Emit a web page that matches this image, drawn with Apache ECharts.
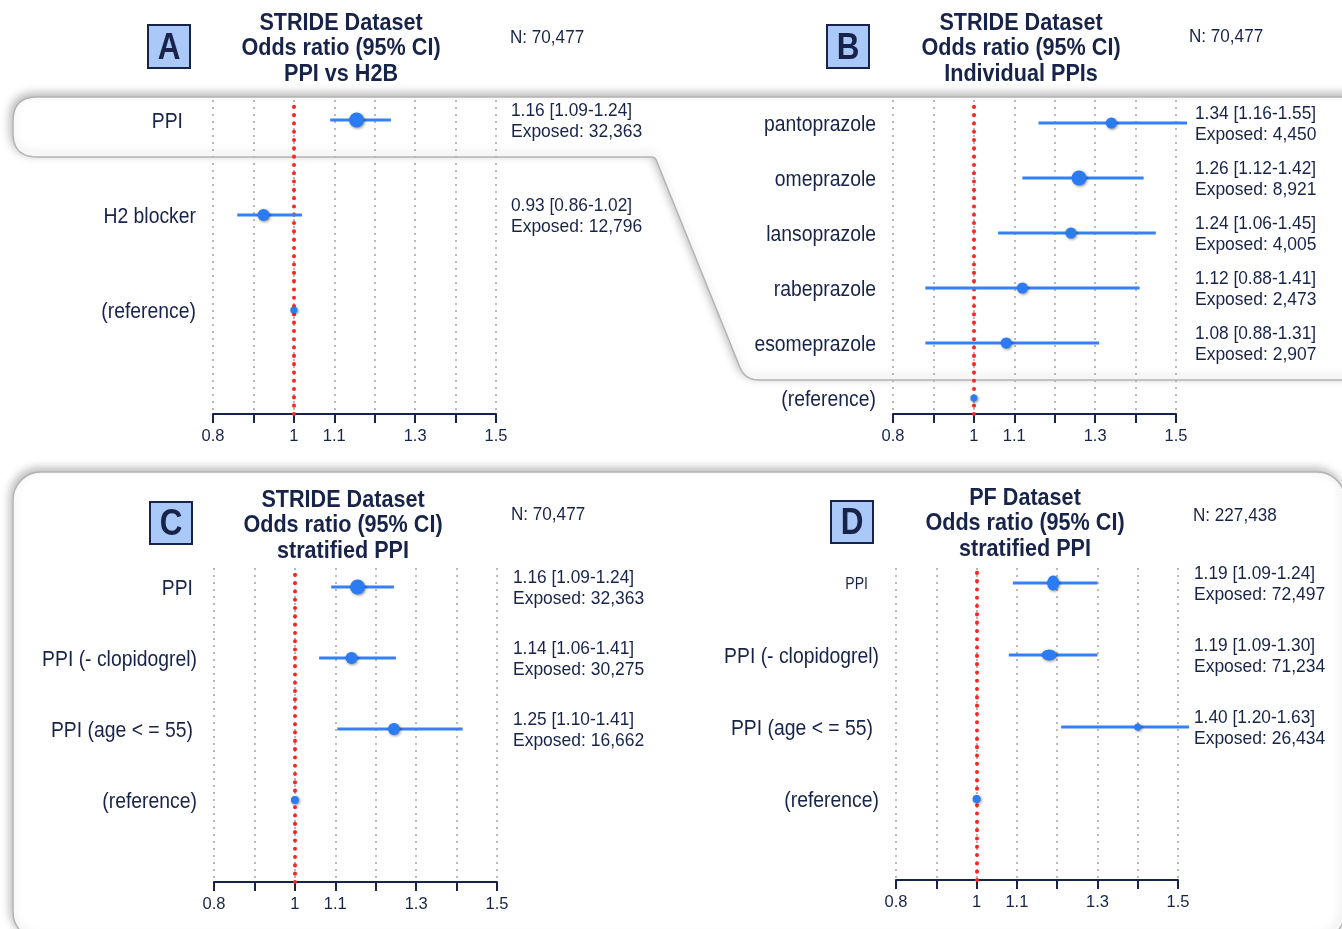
<!DOCTYPE html>
<html>
<head>
<meta charset="utf-8">
<script src="https://cdn.jsdelivr.net/npm/echarts@6/dist/echarts.min.js"></script>
<style>
html,body{margin:0;padding:0;background:#fff;}
#chart{width:1342px;height:929px;}
</style>
</head>
<body>
<div id="chart"></div>
<script>
// ---------------- DATA ----------------
const xTickLabelsShown = ['0.8', '1', '1.1', '1.3', '1.5'];

// Panel A: STRIDE, PPI vs H2B
const aCategories = ['PPI', 'H2 blocker', '(reference)'];
const aOR   = [1.155, 0.925, 1.0];
const aLow  = [1.09, 0.86, 1.0];
const aHigh = [1.24, 1.02, 1.0];
const aEstimate = ['1.16 [1.09-1.24]', '0.93 [0.86-1.02]', ''];
const aExposed  = ['Exposed: 32,363', 'Exposed: 12,796', ''];
const aN = 'N: 70,477';

// Panel B: STRIDE, individual PPIs
const bCategories = ['pantoprazole', 'omeprazole', 'lansoprazole', 'rabeprazole', 'esomeprazole', '(reference)'];
const bOR   = [1.34, 1.26, 1.24, 1.12, 1.08, 1.0];
const bLow  = [1.16, 1.12, 1.06, 0.88, 0.88, 1.0];
const bHigh = [1.55, 1.42, 1.45, 1.41, 1.31, 1.0];
const bEstimate = ['1.34 [1.16-1.55]', '1.26 [1.12-1.42]', '1.24 [1.06-1.45]', '1.12 [0.88-1.41]', '1.08 [0.88-1.31]', ''];
const bExposed  = ['Exposed: 4,450', 'Exposed: 8,921', 'Exposed: 4,005', 'Exposed: 2,473', 'Exposed: 2,907', ''];
const bN = 'N: 70,477';

// Panel C: STRIDE, stratified PPI
const cCategories = ['PPI', 'PPI (- clopidogrel)', 'PPI (age < = 55)', '(reference)'];
const cOR   = [1.155, 1.14, 1.245, 1.0];
const cLow  = [1.09, 1.06, 1.105, 1.0];
const cHigh = [1.245, 1.25, 1.415, 1.0];
const cEstimate = ['1.16 [1.09-1.24]', '1.14 [1.06-1.41]', '1.25 [1.10-1.41]', ''];
const cExposed  = ['Exposed: 32,363', 'Exposed: 30,275', 'Exposed: 16,662', ''];
const cN = 'N: 70,477';

// Panel D: PF, stratified PPI
const dCategories = ['PPI', 'PPI (- clopidogrel)', 'PPI (age < = 55)', '(reference)'];
const dOR   = [1.19, 1.18, 1.40, 1.0];
const dLow  = [1.09, 1.08, 1.21, 1.0];
const dHigh = [1.30, 1.30, 1.63, 1.0];
const dEstimate = ['1.19 [1.09-1.24]', '1.19 [1.09-1.30]', '1.40 [1.20-1.63]', ''];
const dExposed  = ['Exposed: 72,497', 'Exposed: 71,234', 'Exposed: 26,434', ''];
const dN = 'N: 227,438';

// ---------------- STYLE / LAYOUT ----------------
const NAVY = '#172349';
const BLUE = '#2b7bf3';
const LINEBLUE = '#3580f2';
const FONT = "'Liberation Sans',Arial,sans-serif";
const SQUEEZE = 0.88;   // horizontal condensing of text

const panels = [
  { key: 'A', cats: aCategories, or: aOR, lo: aLow, hi: aHigh, est: aEstimate, exp: aExposed, n: aN,
    title: ['STRIDE Dataset', 'Odds ratio (95% CI)', 'PPI vs H2B'],
    grid: { left: 213, top: 100, width: 283, height: 314 }, ymin: -0.095, ymax: 3.21,
    markerSize: [15, 12, 7], labelDx: [-13, 0, 0], labelSize: [22, 22, 22], annDx: 15,
    box: [148, 25, 42, 43], titleX: 341, titleY: 23, nPos: [510, 38] },
  { key: 'B', cats: bCategories, or: bOR, lo: bLow, hi: bHigh, est: bEstimate, exp: bExposed, n: bN,
    title: ['STRIDE Dataset', 'Odds ratio (95% CI)', 'Individual PPIs'],
    grid: { left: 893, top: 100, width: 283, height: 314 }, ymin: 0.709, ymax: 6.418,
    markerSize: [11, 15, 11, 11, 11, 7], labelDx: [0, 0, 0, 0, 0, 0], labelSize: [22, 22, 22, 22, 22, 22], annDx: 19,
    box: [827, 25, 42, 43], titleX: 1021, titleY: 23, nPos: [1189, 37] },
  { key: 'C', cats: cCategories, or: cOR, lo: cLow, hi: cHigh, est: cEstimate, exp: cExposed, n: cN,
    title: ['STRIDE Dataset', 'Odds ratio (95% CI)', 'stratified PPI'],
    grid: { left: 214, top: 568, width: 283, height: 314 }, ymin: -0.155, ymax: 4.268,
    markerSize: [15, 12, 12, 8], labelDx: [-4, 0, -4, 0], labelSize: [22, 22, 22, 22], annDx: 16,
    box: [150, 502, 42, 42], titleX: 343, titleY: 500, nPos: [511, 515] },
  { key: 'D', cats: dCategories, or: dOR, lo: dLow, hi: dHigh, est: dEstimate, exp: dExposed, n: dN,
    title: ['PF Dataset', 'Odds ratio (95% CI)', 'stratified PPI'],
    grid: { left: 896, top: 568, width: 282, height: 312 }, ymin: -0.125, ymax: 4.208,
    markerSize: [[12, 15], [15, 11], 7, 8], labelDx: [-11, 0, -6, 0], labelSize: [16, 22, 22, 22], annDx: 16,
    box: [831, 501, 42, 42], titleX: 1025, titleY: 498, nPos: [1193, 516] }
];

// condensed text element helper
function txt(text, x, y, font, align, sx) {
  return { type: 'text', x: 0, y: 0, scaleX: sx || SQUEEZE, originX: x, originY: y,
           style: { text, x, y, font, fill: NAVY, align: align || 'left', verticalAlign: 'middle' } };
}

// rounded-corner polygon helper (corner list: [x, y, radius])
function roundedPoly(corners) {
  const pts = [];
  const n = corners.length;
  for (let i = 0; i < n; i++) {
    const [x, y, r] = corners[i];
    if (!r) { pts.push([x, y]); continue; }
    const prev = corners[(i - 1 + n) % n], next = corners[(i + 1) % n];
    const v1 = [prev[0] - x, prev[1] - y], v2 = [next[0] - x, next[1] - y];
    const l1 = Math.hypot(v1[0], v1[1]), l2 = Math.hypot(v2[0], v2[1]);
    const u1 = [v1[0] / l1, v1[1] / l1], u2 = [v2[0] / l2, v2[1] / l2];
    const p1 = [x + u1[0] * r, y + u1[1] * r], p2 = [x + u2[0] * r, y + u2[1] * r];
    const steps = 10;
    for (let s = 0; s <= steps; s++) {
      const t = s / steps;
      const bx = (1 - t) * (1 - t) * p1[0] + 2 * (1 - t) * t * x + t * t * p2[0];
      const by = (1 - t) * (1 - t) * p1[1] + 2 * (1 - t) * t * y + t * t * p2[1];
      pts.push([bx, by]);
    }
  }
  return pts;
}

// ---------------- BUILD OPTION ----------------
const grids = [], xAxes = [], yAxes = [], series = [], graphics = [];

const shapeStyle = { fill: '#ffffff', stroke: '#b4b4b4', lineWidth: 1.5,
  shadowBlur: 10, shadowOffsetX: -2, shadowOffsetY: -3, shadowColor: 'rgba(0,0,0,0.28)' };

graphics.push({
  type: 'polygon', z: -20,
  shape: { points: roundedPoly([[1360, 97, 0], [13, 97, 24], [13, 157, 24], [655, 157, 4], [745, 380, 14], [1360, 380, 0]]) },
  style: shapeStyle
});
graphics.push({
  type: 'rect', z: -20,
  shape: { x: 13, y: 472, width: 1332, height: 468, r: 28 },
  style: shapeStyle
});

panels.forEach((p, pi) => {
  const n = p.cats.length;
  const rowPos = p.cats.map((_, i) => n - i);

  grids.push(Object.assign({ containLabel: false }, p.grid));
  xAxes.push({
    type: 'value', gridIndex: pi, min: 0.8, max: 1.5, interval: 0.1,
    axisLine: { show: true, onZero: false, lineStyle: { color: NAVY, width: 2 } },
    axisTick: { show: true, length: 9, lineStyle: { color: NAVY, width: 2 } },
    axisLabel: {
      color: NAVY, fontFamily: FONT, fontSize: 16.5, margin: 14,
      formatter: v => { const s = String(Math.round(v * 10) / 10); return xTickLabelsShown.includes(s) ? s : ''; }
    },
    splitLine: { show: true, lineStyle: { color: '#b8b8b8', width: 2, type: [2, 5] } }
  });
  yAxes.push({
    type: 'value', gridIndex: pi, min: p.ymin, max: p.ymax, show: false,
    splitLine: { show: false }
  });

  // CI lines
  series.push({
    type: 'custom', xAxisIndex: pi, yAxisIndex: pi, z: 3,
    data: p.cats.map((_, i) => [p.lo[i], p.hi[i], rowPos[i]]),
    encode: { x: [0, 1], y: 2 },
    renderItem: (params, api) => {
      const a = api.coord([api.value(0), api.value(2)]);
      const b = api.coord([api.value(1), api.value(2)]);
      const cs = params.coordSys;
      const right = cs.x + cs.width + 11;
      if (Math.abs(b[0] - a[0]) < 0.5) return null;
      return { type: 'line', shape: { x1: a[0], y1: a[1], x2: Math.min(b[0], right), y2: b[1] },
               style: { stroke: LINEBLUE, lineWidth: 3 } };
    }
  });

  // point estimates + red reference line
  series.push({
    type: 'scatter', xAxisIndex: pi, yAxisIndex: pi, z: 4,
    data: p.cats.map((_, i) => ({ value: [p.or[i], rowPos[i]], symbolSize: p.markerSize[i] })),
    itemStyle: { color: BLUE, opacity: 1, shadowBlur: 3, shadowColor: 'rgba(0,0,0,0.45)', shadowOffsetX: 1, shadowOffsetY: 1 },
    emphasis: { disabled: true },
    markLine: {
      silent: true, symbol: ['none', 'none'], z: 3,
      label: { show: false },
      lineStyle: { color: '#ff2424', width: 4, type: [0.1, 8.2], cap: 'round', opacity: 1 },
      emphasis: { disabled: true },
      data: [{ xAxis: 1 }]
    }
  });

  // row labels and annotations
  series.push({
    type: 'custom', xAxisIndex: pi, yAxisIndex: pi, z: 5, silent: true,
    data: p.cats.map((_, i) => [0.8, rowPos[i]]),
    encode: { x: 0, y: 1 },
    renderItem: (params, api) => {
      const i = params.dataIndex;
      const pt = api.coord([0.8, api.value(1)]);
      const cs = params.coordSys;
      const y = pt[1];
      const children = [txt(p.cats[i], cs.x - 17 + p.labelDx[i], y + 2, p.labelSize[i] + 'px ' + FONT, 'right')];
      if (p.est[i]) {
        const ax = cs.x + cs.width + p.annDx;
        children.push(txt(p.est[i], ax, y - 9, '19px ' + FONT, 'left', 0.91));
        children.push(txt(p.exp[i], ax, y + 12, '19px ' + FONT, 'left', 0.92));
      }
      return { type: 'group', children };
    }
  });

  // Panel letter box
  graphics.push({
    type: 'rect', z: 10,
    shape: { x: p.box[0], y: p.box[1], width: p.box[2], height: p.box[3] },
    style: { fill: '#aac9f9', stroke: NAVY, lineWidth: 2 }
  });
  graphics.push(Object.assign(txt(p.key, p.box[0] + p.box[2] / 2, p.box[1] + p.box[3] / 2 + 2, 'bold 37px ' + FONT, 'center', 0.85), { z: 11 }));
  p.title.forEach((t, ti) => {
    graphics.push(Object.assign(txt(t, p.titleX, p.titleY + ti * 25.5, 'bold 24px ' + FONT, 'center', 0.9), { z: 11 }));
  });
  graphics.push(Object.assign(txt(p.n, p.nPos[0], p.nPos[1], '19px ' + FONT, 'left', 0.9), { z: 11 }));
});

const chart = echarts.init(document.getElementById('chart'), null, { renderer: 'canvas' });
chart.setOption({
  animation: false,
  backgroundColor: '#ffffff',
  grid: grids,
  xAxis: xAxes,
  yAxis: yAxes,
  series: series,
  graphic: { elements: graphics }
});
</script>
</body>
</html>
